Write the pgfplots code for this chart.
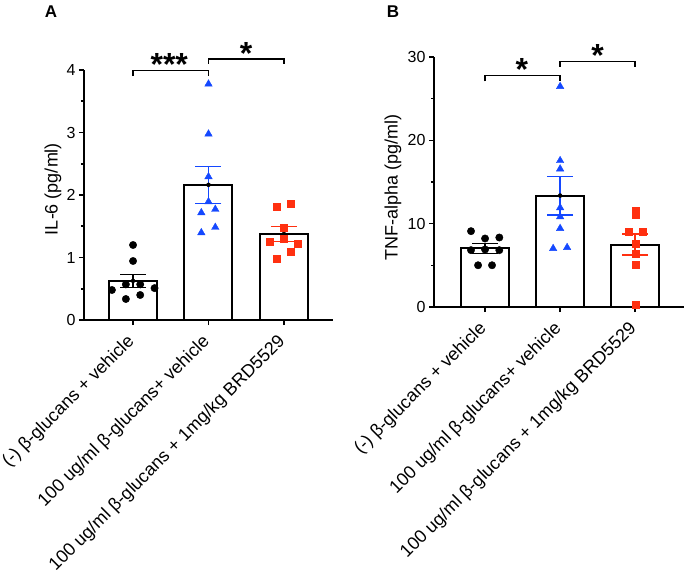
\documentclass[border=0pt]{standalone}
\usepackage{fontspec}
\setmainfont{Liberation Sans}
\usepackage{pgfplots}
\pgfplotsset{compat=1.18}
\definecolor{dotblue}{RGB}{20,72,255}
\definecolor{dotred}{RGB}{255,48,16}

\pgfplotsset{
  prism/.style={
    scale only axis, width=249pt, height=250pt,
    axis lines=left, axis line style={-, line width=2pt},
    xmin=-0.65, xmax=2.65, ymin=0,
    xtick={0,1,2},
    xticklabels={{(-) β-glucans + vehicle},{100 ug/ml β-glucans+ vehicle},{100 ug/ml β-glucans + 1mg/kg BRD5529}},
    xticklabel style={xshift=2pt, yshift=-17pt, rotate=45, anchor=base east,
      inner sep=0pt, font=\fontsize{18}{20}\selectfont},
    yticklabel style={font=\fontsize{16}{18}\selectfont},
    /pgf/number format/assume math mode=true,
    tick align=outside, major tick length=5pt, minor tick length=3pt,
    tick style={black, line width=1.6pt},
    minor y tick num=1,
    ylabel style={font=\fontsize{18}{20}\selectfont, anchor=center},
    clip=false,
  },
  sem/.style={only marks, mark=none, error bars/.cd, y dir=both, y explicit,
    error bar style={line width=1.6pt, #1},
    error mark options={rotate=90, mark size=13pt, line width=1.6pt, #1}},
}

\begin{document}
\begin{tikzpicture}
\useasboundingbox (0,0) rectangle (685pt,573pt);

\node[font=\fontsize{17}{17}\selectfont\bfseries] at (51pt,561pt) {A};
\node[font=\fontsize{17}{17}\selectfont\bfseries] at (393pt,561pt) {B};

% IL-6
\begin{axis}[prism, at={(84pt,253pt)}, anchor=south west,
    ymax=4, ytick={0,1,2,3,4},
    ylabel={IL-6 (pg/ml)},
    ylabel style={at={(axis description cs:-0.1245,0.524)}}]
\addplot[ybar, bar width=48pt, fill=white, draw=black, line width=2pt]
  coordinates {(0,0.626) (1,2.163) (2,1.375)};
\addplot[sem=black] coordinates {(0,0.626) +- (0,0.105)};
\addplot[sem=dotblue] coordinates {(1,2.163) +- (0,0.296)};
\addplot[sem=dotred] coordinates {(2,1.375) +- (0,0.118)};
\addplot[only marks, mark=*, mark size=3.7pt, black] coordinates {
  (0,1.2) (0,0.944) (-0.28,0.48) (-0.095,0.57) (0.095,0.57) (0.285,0.51) (-0.095,0.336) (0.095,0.40)};
\addplot[only marks, mark=triangle*, mark size=4.3pt, dotblue] coordinates {
  (1,3.776) (1,2.976) (1,2.293) (1,1.893) (0.905,1.717) (1.09,1.771) (0.905,1.397) (1.09,1.483)};
\addplot[only marks, mark=square*, mark size=3.5pt, dotred] coordinates {
  (1.905,1.813) (2.09,1.856) (2,1.483) (2,1.307) (1.81,1.253) (2.18,1.216) (2.09,1.093) (1.905,0.976)};
\draw[line width=1.6pt] (axis cs:0,3.9) |- (axis cs:1,3.99) -- (axis cs:1,3.9);
\draw[line width=1.6pt] (axis cs:1,4.1) |- (axis cs:2,4.18) -- (axis cs:2,4.1);
\node[font=\fontsize{32}{32}\selectfont\bfseries, anchor=north, inner sep=0pt] at (axis cs:0.48,4.27) {***};
\node[font=\fontsize{32}{32}\selectfont\bfseries, anchor=north, inner sep=0pt] at (axis cs:1.5,4.45) {*};
\end{axis}

% TNF-alpha
\begin{axis}[prism, at={(434pt,266pt)}, anchor=south west, width=250pt,
    xmin=-0.68, ymax=30, ytick={0,10,20,30},
    ylabel={TNF-alpha (pg/ml)},
    ylabel style={at={(axis description cs:-0.164,0.48)}}]
\addplot[ybar, bar width=48pt, fill=white, draw=black, line width=2pt]
  coordinates {(0,7.03) (1,13.37) (2,7.50)};
\addplot[sem=black] coordinates {(0,7.03) +- (0,0.6)};
\addplot[sem=dotblue] coordinates {(1,13.37) +- (0,2.3)};
\addplot[sem=dotred] coordinates {(2,7.50) +- (0,1.28)};
\addplot[only marks, mark=*, mark size=3.7pt, black] coordinates {
  (-0.187,9.1) (0,8.22) (0.19,8.34) (-0.187,6.82) (0,6.9) (0.19,6.82) (-0.093,5.01) (0.093,5.01)};
\addplot[only marks, mark=triangle*, mark size=4.3pt, dotblue] coordinates {
  (1,26.47) (1,17.57) (1,16.57) (1,11.91) (1,10.83) (1,9.43) (0.907,7.02) (1.093,7.14)};
\addplot[only marks, mark=square*, mark size=3.5pt, dotred] coordinates {
  (2,11.51) (2,11.03) (1.91,9.03) (2.1,9.03) (2,7.54) (2,6.42) (2,5.13) (2,0.28)};
\draw[line width=1.6pt] (axis cs:0,27.07) |- (axis cs:1,27.76) -- (axis cs:1,27.07);
\draw[line width=1.6pt] (axis cs:1,28.8) |- (axis cs:2,29.48) -- (axis cs:2,28.8);
\node[font=\fontsize{32}{32}\selectfont\bfseries, anchor=north, inner sep=0pt] at (axis cs:0.49,29.8) {*};
\node[font=\fontsize{32}{32}\selectfont\bfseries, anchor=north, inner sep=0pt] at (axis cs:1.5,31.5) {*};
\end{axis}
\end{tikzpicture}
\end{document}
